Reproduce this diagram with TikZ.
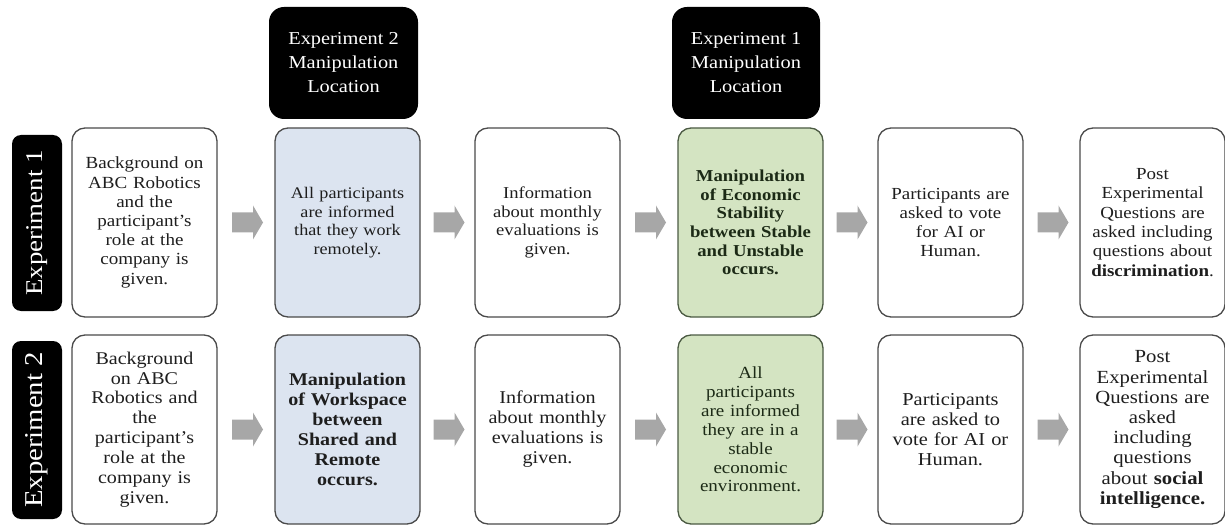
\documentclass[tikz,border=0pt]{standalone}
\usepackage{fontspec}
\setmainfont{Liberation Serif}[FakeStretch=1.12]
\usetikzlibrary{calc}
\definecolor{txt}{HTML}{1E1E1E}
\definecolor{edge}{HTML}{4A4A4A}
\definecolor{bluefill}{HTML}{DCE4F0}
\definecolor{greenfill}{HTML}{D4E4C2}
\definecolor{greenedge}{HTML}{4B5A43}
\definecolor{greentxt}{HTML}{1C2A16}
\definecolor{arrowgrey}{HTML}{A7A7A7}
\newcommand{\fsz}[2]{\fontsize{#1}{#2}\selectfont}
\tikzset{
  stepbox/.style={draw=edge, line width=1.3pt, rounded corners=13pt, fill=white,
    minimum width=145pt, minimum height=189pt, inner sep=0pt, text width=140pt,
    align=center, text=txt},
  bluebox/.style={stepbox, fill=bluefill},
  greenbox/.style={stepbox, fill=greenfill, draw=greenedge, text=greentxt},
  hdrbox/.style={fill=black, rounded corners=15pt, minimum height=112pt,
    inner sep=0pt, text=white, align=center, font=\fsz{18.2}{24}},
  vlabel/.style={fill=black, rounded corners=9pt, minimum width=50pt,
    inner sep=0pt, text=white},
  garrow/.style={fill=arrowgrey, draw=none}
}
\begin{document}
\begin{tikzpicture}[x=1pt,y=-1pt]
\useasboundingbox (0,0) rectangle (1225,529);

% headers
\node[hdrbox, minimum width=149pt] (h2) at (343.5,63) {Experiment 2\\Manipulation\\Location};
\node[hdrbox, minimum width=148pt] (h1) at (746,63) {Experiment 1\\Manipulation\\Location};

% side labels
\node[vlabel, minimum height=176pt] (e1) at (37,223) {};
\node[rotate=90, text=white, font=\fsz{24}{26}] (e1t) at (e1.center) {Experiment 1};
\node[vlabel, minimum height=178pt] (e2) at (37,430) {};
\node[rotate=90, text=white, font=\fsz{25.7}{28}] (e2t) at (e2.center) {Experiment 2};

% row 1
\node[stepbox, font=\fsz{17}{19.2}] (a1) at (144.5,222.5)
  {Background on\\ABC Robotics\\and the\\participant's\\role at the\\company is\\given.};
\node[bluebox, font=\fsz{16.2}{18.6}] (a2) at (347.5,222.5)
  {All participants\\are informed\\that they work\\remotely.};
\node[stepbox, font=\fsz{16.6}{18.7}] (a3) at (547.5,222.5)
  {Information\\about monthly\\evaluations is\\given.};
\node[greenbox, font=\fsz{16.7}{18.7}\bfseries] (a4) at (750.5,222.5)
  {Manipulation\\of Economic\\Stability\\between Stable\\and Unstable\\occurs.};
\node[stepbox, font=\fsz{16.9}{18.7}] (a5) at (950.5,222.5)
  {Participants are\\asked to vote\\for AI or\\Human.};
\node[stepbox, font=\fsz{16.9}{19.3}] (a6) at (1152.5,222.5)
  {Post\\Experimental\\Questions are\\asked including\\questions about\\\textbf{discrimination}.};

% row 2
\node[stepbox, font=\fsz{17.9}{19.9}] (b1) at (144.5,429.5)
  {Background\\on ABC\\Robotics and\\the\\participant's\\role at the\\company is\\given.};
\node[bluebox, font=\fsz{17.9}{20}\bfseries] (b2) at (347.5,429.5)
  {Manipulation\\of Workspace\\between\\Shared and\\Remote\\occurs.};
\node[stepbox, font=\fsz{18}{20}] (b3) at (547.5,429.5)
  {Information\\about monthly\\evaluations is\\given.};
\node[greenbox, font=\fsz{17}{18.9}] (b4) at (750.5,429.5)
  {All\\participants\\are informed\\they are in a\\stable\\economic\\environment.};
\node[stepbox, font=\fsz{18.2}{20}] (b5) at (950.5,429.5)
  {Participants\\are asked to\\vote for AI or\\Human.};
\node[stepbox, font=\fsz{18.5}{20.2}] (b6) at (1152.5,429.5)
  {Post\\Experimental\\Questions are\\asked\\including\\questions\\about \textbf{social}\\\textbf{intelligence.}};

% block arrows between steps
\foreach \r in {a,b}{
  \foreach \i/\j in {1/2,2/3,3/4,4/5,5/6}{
    \coordinate (\r\i\j) at ($($(\r\i.east)!0.5!(\r\j.west)$)+(1,0)$);
    \fill[garrow, shift={(\r\i\j)}] (-15,-10) -- (6,-10) -- (6,-17) -- (16,0)
      -- (6,17) -- (6,10) -- (-15,10) -- cycle;
  }
}
\end{tikzpicture}
\end{document}
